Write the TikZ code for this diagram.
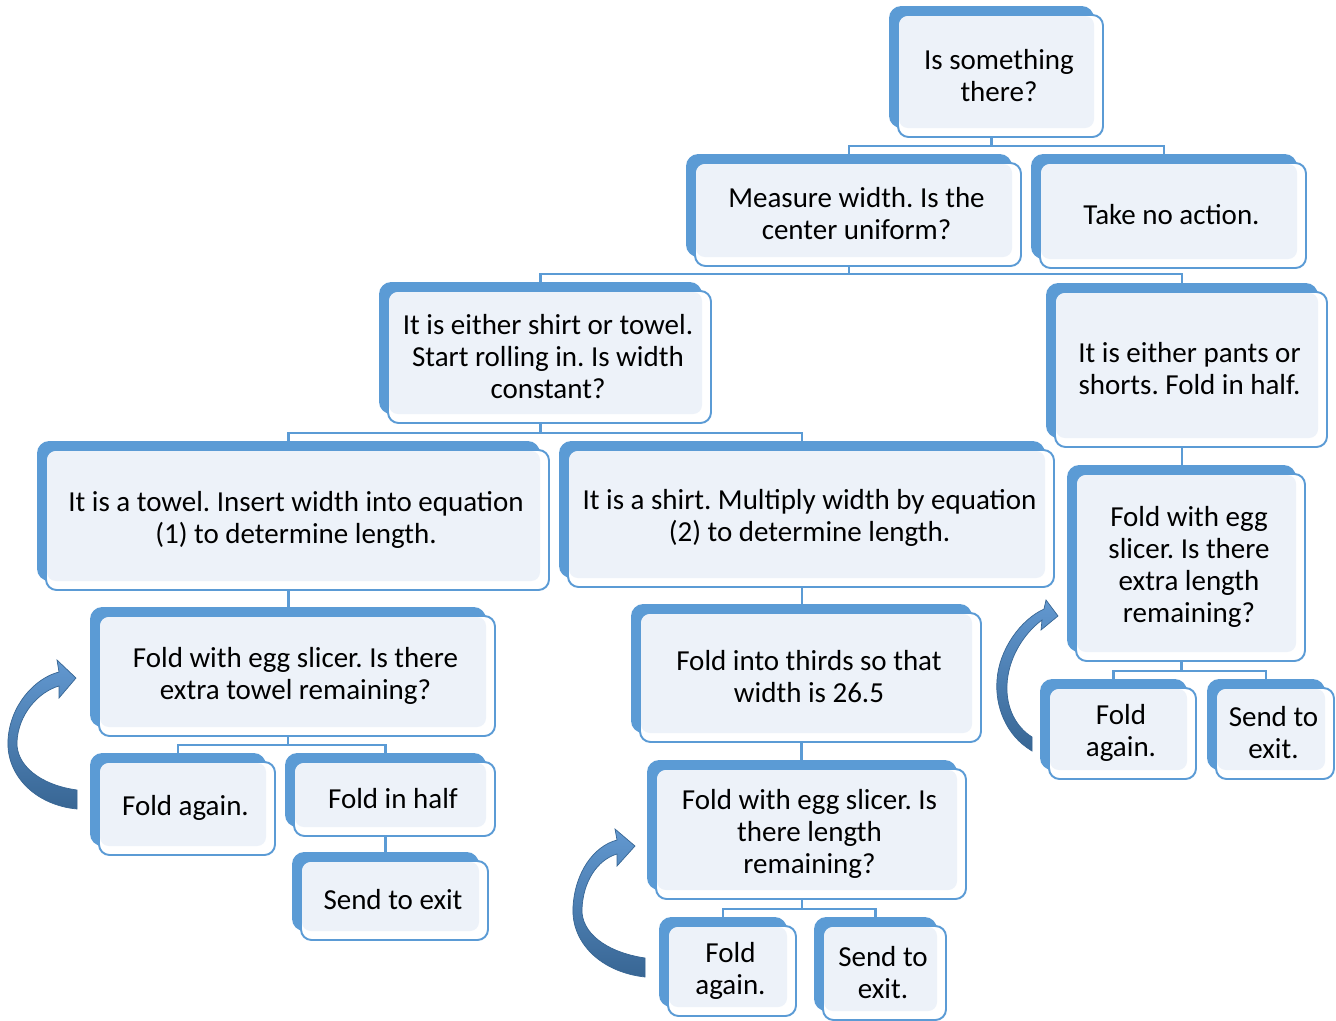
\documentclass[tikz,border=0pt]{standalone}
\usepackage{fontspec}
\setmainfont{Carlito}
\frenchspacing
\usetikzlibrary{fit,calc,backgrounds}
\definecolor{cardblue}{RGB}{91,155,213}
\definecolor{cardfill}{RGB}{237,242,249}
\definecolor{arrowlight}{RGB}{98,152,208}
\definecolor{arrowdark}{RGB}{56,102,148}

\tikzset{
    cardtext/.style={align=center, font=\fontsize{16.5}{18.2}\selectfont, inner sep=0pt},
    link/.style={draw=cardblue, line width=1.3pt},
    bendarrow/.style={top color=arrowlight, bottom color=arrowdark, draw=arrowdark, line width=0.4pt}
}

% card: name, x0, y0, x1, y1, text
\newcommand{\card}[6]{%
    \fill[cardblue, rounded corners=7pt] (#2,#3) rectangle (#4-9,#5-9);
    \filldraw[draw=cardblue, fill=white, line width=1.1pt, rounded corners=6pt] (#2+9,#3+9) rectangle (#4,#5);
    \fill[cardfill, rounded corners=5pt] (#2+10,#3+10) rectangle (#4-9,#5-9);
    \node[fit={(#2,#3) (#4-9,#5-9)}, inner sep=0pt] (#1) {};
    \node[cardtext] (#1txt) at ({(#2+#4)/2+3},{(#3+#5)/2+4}) {#6};
}

% fork: parent, left child, right child
\newcommand{\fork}[3]{%
    \coordinate (#1f) at ($(#2.north)+(0,-8)$);
    \draw[link] (#1.south) -- (#1.south |- #1f);
    \draw[link] (#2.north) -- (#1f) -| (#3.north);
}

\begin{document}
\begin{tikzpicture}[x=0.02cm, y=-0.02cm]
    \useasboundingbox (0,0) rectangle (1336,1021);

    % top levels
    \card{something}{889}{6}{1103}{137}{Is something\\there?}
    \card{measure}{686}{154}{1021}{266}{Measure width. Is the\\center uniform?}
    \card{noaction}{1031}{154}{1306}{268}{Take no action.}
    \card{shirttowel}{379}{282}{711}{423}{It is either shirt or towel.\\Start rolling in. Is width\\constant?}
    \card{pantsshorts}{1046}{283}{1327}{447}{It is either pants or\\shorts. Fold in half.}

    % towel and shirt
    \card{towel}{37}{441}{549}{590}{It is a towel. Insert width into equation\\(1) to determine length.}
    \card{shirt}{559}{441}{1054}{587}{It is a shirt. Multiply width by equation\\(2) to determine length.}

    % pants branch
    \card{eggpants}{1067}{465}{1305}{661}{Fold with egg\\slicer. Is there\\extra length\\remaining?}
    \card{foldpants}{1040}{679}{1196}{779}{Fold\\again.}
    \card{exitpants}{1207}{679}{1334}{779}{Send to\\exit.}

    % towel branch
    \card{eggtowel}{90}{607}{495}{736}{Fold with egg slicer. Is there\\extra towel remaining?}
    \card{foldtowel}{90}{753}{275}{855}{Fold again.}
    \card{halftowel}{285}{753}{495}{836}{Fold in half}
    \card{exittowel}{292}{852}{488}{940}{Send to exit}

    % shirt branch
    \card{thirds}{631}{604}{981}{742}{Fold into thirds so that\\width is 26.5}
    \card{eggshirt}{647}{760}{966}{899}{Fold with egg slicer. Is\\there length\\remaining?}
    \card{foldshirt}{659}{917}{796}{1016}{Fold\\again.}
    \card{exitshirt}{814}{917}{946}{1020}{Send to\\exit.}

    % connectors
    \begin{scope}[on background layer]
        \fork{something}{measure}{noaction}
        \fork{measure}{shirttowel}{pantsshorts}
        \fork{shirttowel}{towel}{shirt}
        \fork{eggtowel}{foldtowel}{halftowel}
        \fork{eggshirt}{foldshirt}{exitshirt}
        \fork{eggpants}{foldpants}{exitpants}
        \draw[link] (pantsshorts.south) -- (pantsshorts.south |- eggpants.north);
        \draw[link] (towel.south) -- (towel.south |- eggtowel.north);
        \draw[link] (shirt.south) -- (shirt.south |- thirds.north);
        \draw[link] (thirds.south) -- (thirds.south |- eggshirt.north);
        \draw[link] (halftowel.south) -- (halftowel.south |- exittowel.north);
    \end{scope}

    % curved arrows
    \path[bendarrow] (77,790) -- (77,809) .. controls (35,805) and (6,775) .. (8,740)
        .. controls (10,705) and (35,678) .. (59,672) -- (57,660) -- (76,678) -- (59,698) -- (59,686)
        .. controls (38,692) and (18,715) .. (17,742) .. controls (16,765) and (40,785) .. (77,790) -- cycle;
    \path[bendarrow] (645,958) -- (645,977) .. controls (600,972) and (571,942) .. (573,907)
        .. controls (575,872) and (594,846) .. (617,840) -- (615,829) -- (635,846) -- (617,866) -- (617,854)
        .. controls (597,860) and (583,882) .. (582,909) .. controls (581,932) and (605,952) .. (645,958) -- cycle;
    \path[bendarrow] (1032,737) -- (1032,751) .. controls (1005,735) and (995,705) .. (997,680)
        .. controls (999,650) and (1020,620) .. (1044,609) -- (1046,600) -- (1058,616) -- (1041,630) -- (1042,620)
        .. controls (1022,635) and (1008,660) .. (1007,685) .. controls (1006,708) and (1016,727) .. (1032,737) -- cycle;
\end{tikzpicture}
\end{document}
